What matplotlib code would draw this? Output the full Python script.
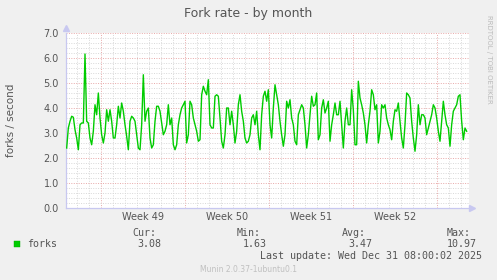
import numpy as np
import matplotlib
matplotlib.use("Agg")
import matplotlib.pyplot as plt
from matplotlib.patches import Rectangle

# ---- data ----
title = "Fork rate - by month"
ylabel = "forks / second"
series_name = "forks"
week_labels = ["Week 49", "Week 50", "Week 51", "Week 52"]
week_starts = [0, 7, 14, 21, 28]          # days relative to Mon Dec 1 2025
t_start, t_end = -2.861, 30.472            # days relative to Mon Dec 1 2025
stat_names = ["Cur:", "Min:", "Avg:", "Max:"]
stat_values = ["3.08", "1.63", "3.47", "10.97"]
last_update = "Last update: Wed Dec 31 08:00:02 2025"
footer = "Munin 2.0.37-1ubuntu0.1"

forks = [
    2.40, 3.20, 3.47, 3.67, 3.63, 3.13, 2.80, 2.33, 3.33, 3.40, 3.40, 6.16, 3.47, 3.40, 2.80, 2.53,
    3.07, 4.13, 3.73, 4.60, 3.60, 2.93, 2.60, 3.00, 3.93, 3.47, 3.93, 3.47, 2.80, 2.80, 3.33, 4.07,
    3.60, 4.20, 3.87, 3.33, 2.87, 2.33, 3.47, 3.67, 3.60, 3.47, 2.93, 2.40, 2.33, 3.33, 5.33, 3.47,
    3.87, 4.00, 2.80, 2.40, 2.53, 3.47, 4.07, 4.07, 3.87, 3.40, 2.93, 3.07, 3.33, 4.13, 3.33, 3.60,
    2.53, 2.33, 2.53, 3.33, 3.73, 4.00, 4.13, 4.27, 2.60, 2.93, 4.27, 4.13, 3.60, 3.33, 3.07, 2.67,
    2.73, 4.53, 4.87, 4.67, 4.53, 5.13, 3.33, 3.20, 3.20, 4.47, 4.53, 4.47, 3.60, 2.67, 2.40, 2.93,
    4.00, 4.00, 3.33, 3.87, 3.33, 2.60, 3.07, 4.13, 4.53, 3.87, 3.47, 2.80, 2.60, 2.67, 2.93, 3.60,
    3.73, 3.33, 3.87, 2.93, 2.33, 3.73, 4.47, 4.67, 4.27, 4.73, 3.33,
    2.80, 4.00, 4.93, 4.53, 4.13, 3.47, 2.93, 2.47, 2.93, 4.27, 4.00, 4.33, 3.60, 3.33, 2.67, 2.53,
    3.73, 3.93, 4.13, 4.00, 3.33, 2.40, 2.93, 3.73, 4.47, 4.07, 4.13, 4.60, 2.73, 2.93, 4.00, 4.33,
    3.80, 4.00, 4.27, 2.67, 3.33, 3.73, 4.20, 3.73, 3.73, 4.27, 3.33, 2.40, 3.47, 4.00, 3.33, 3.33,
    4.73, 3.93, 2.53, 2.53, 5.07, 4.40, 4.13, 3.80, 3.33, 2.60, 3.33, 3.87, 4.73, 4.53, 3.93, 4.13,
    2.60, 3.07, 4.13, 4.00, 4.13, 3.60, 3.33, 3.13, 2.73, 3.47, 3.93, 3.87, 4.20, 3.47, 2.80, 2.40,
    3.33, 4.60, 4.53, 4.40, 3.47, 2.80, 2.27, 2.93, 4.13, 3.33, 3.73, 3.73, 3.60, 2.93, 3.20, 3.47,
    3.73, 4.13, 4.00, 3.60, 3.07, 2.67, 3.47, 4.27, 3.73, 3.33, 3.20, 2.47, 3.33, 3.87, 4.00, 4.13,
    4.47, 4.53, 3.47, 2.73, 3.20, 3.07,
]

# ---- figure ----
W, H = 497, 280
fig = plt.figure(figsize=(W / 100, H / 100), dpi=100, facecolor="#F0F0F0")

def fx(px):
    return px / W

def fy(py):
    return 1 - py / H

ax = fig.add_axes([fx(66), fy(208), (469 - 66) / W, (208 - 33) / H])
ax.set_facecolor("white")

t = np.linspace(t_start, t_end, len(forks))
ax.plot(t, forks, color="#00CC00", lw=1.0, zorder=3)

ax.set_xlim(-2.917, 30.667)
ax.set_ylim(0, 7)

minor_col = "#d8d8d8"
major_col = "#e8a8a8"
dots = (0, (1, 1.5))
for d in range(-2, 31):
    if d not in week_starts:
        ax.axvline(d, color=minor_col, lw=0.7, ls=dots, zorder=1)
for d in week_starts:
    ax.axvline(d, color=major_col, lw=0.7, ls=dots, zorder=1)
for v in np.arange(0.2, 7.01, 0.2):
    if abs(v - round(v)) > 1e-6:
        ax.axhline(v, color=minor_col, lw=0.7, ls=dots, zorder=1)
for v in range(1, 8):
    ax.axhline(v, color=major_col, lw=0.7, ls=dots, zorder=1)

for s in ["top", "right"]:
    ax.spines[s].set_visible(False)
for s in ["left", "bottom"]:
    ax.spines[s].set_color("#c8c8f0")
    ax.spines[s].set_linewidth(0.9)

ax.set_yticks(range(0, 8))
ax.set_yticklabels([f"{v:.1f}" for v in range(0, 8)])
ax.set_xticks([w + 3.5 for w in week_starts[:-1]])
ax.set_xticklabels(week_labels)
ax.tick_params(axis="both", length=0, labelsize=7, labelcolor="#555555")
ax.tick_params(axis="y", pad=5)
ax.tick_params(axis="x", pad=3)

# axis arrows
ax.plot([-2.917], [7.2], marker="^", ms=4, color="#c8c8f0", clip_on=False, zorder=4)
ax.plot([30.9], [0], marker=">", ms=4, color="#c8c8f0", clip_on=False, zorder=4)

# texts
fig.text(fx(248), fy(13), title, ha="center", va="center", fontsize=9, color="#555555")
fig.text(fx(11), fy(120), ylabel, ha="center", va="center", rotation=90,
         fontsize=7.5, color="#555555")
fig.text(fx(489), fy(15), "RRDTOOL / TOBI OETIKER", ha="center", va="top", rotation=270,
         fontsize=5, color="#bbbbbb")

mono = "DejaVu Sans Mono"
fig.patches.append(Rectangle((fx(14), fy(247)), 6 / W, 6 / H, transform=fig.transFigure,
                             facecolor="#00CC00", edgecolor="#00AA00", lw=0.3))
fig.text(fx(27), fy(244), series_name, ha="left", va="center", fontsize=7.2,
         family=mono, color="#555555")
for x0, name in zip([132, 237, 342, 447], stat_names):
    fig.text(fx(x0), fy(233), name, ha="left", va="center", fontsize=7.2,
             family=mono, color="#555555")
for x0, val in zip([161, 267, 372, 477], stat_values):
    fig.text(fx(x0), fy(244), val, ha="right", va="center", fontsize=7.2,
             family=mono, color="#555555")
fig.text(fx(482), fy(256), last_update, ha="right", va="center", fontsize=7.2,
         family=mono, color="#555555")
fig.text(fx(248), fy(270), footer, ha="center", va="center", fontsize=5.5,
         color="#c0c0c0")

fig.savefig("out.png", dpi=100, facecolor=fig.get_facecolor())
